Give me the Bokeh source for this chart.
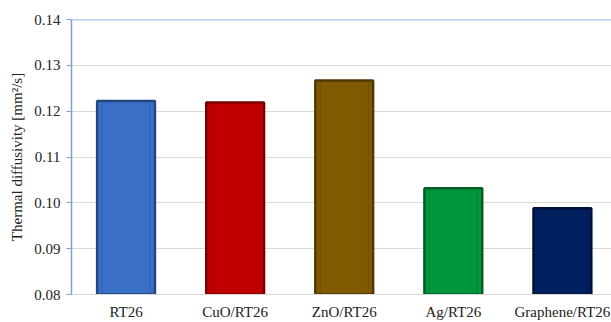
from bokeh.plotting import figure
from bokeh.models import Range1d, Span, FixedTicker, ColumnDataSource
from bokeh.embed import file_html
from bokeh.resources import INLINE

categories = ["RT26", "CuO/RT26", "ZnO/RT26", "Ag/RT26", "Graphene/RT26"]
values = [0.1222, 0.1219, 0.1267, 0.1032, 0.0988]
fill_colors = ["#3a70c8", "#c00000", "#7f5a00", "#00963c", "#002060"]
edge_colors = ["#24467f", "#7a0000", "#4f3800", "#005f26", "#00123a"]
y_ticks = [0.08, 0.09, 0.10, 0.11, 0.12, 0.13, 0.14]

FONT = "'Liberation Serif', 'Times New Roman', serif"

xs = list(range(len(categories)))
src = ColumnDataSource(dict(x=xs, top=values, fill=fill_colors, edge=edge_colors))

p = figure(width=611, height=322, output_backend="svg", toolbar_location=None,
           x_range=Range1d(-0.5, 4.45), y_range=Range1d(0.08, 0.14),
           min_border_left=71, min_border_right=0, min_border_top=19, min_border_bottom=10)
p.outline_line_color = None
p.background_fill_color = "white"

p.vbar(x="x", top="top", bottom=0.08, width=0.53, source=src,
       fill_color="fill", line_color="edge", line_width=2.5)
p.vbar(x="x", top="top", bottom=0.08, width=0.44, source=src,
       fill_color=None, line_color="edge", line_alpha=0.35, line_width=1)

p.add_layout(Span(location=0.14, dimension="width", line_color="#7f9fdc", line_width=1.5))

p.xgrid.grid_line_color = None
p.ygrid.grid_line_color = "#d9d9d9"
p.ygrid.ticker = FixedTicker(ticks=y_ticks)

p.yaxis.ticker = FixedTicker(ticks=y_ticks)
p.yaxis.major_label_overrides = {t: f"{t:.2f}" for t in y_ticks}
p.yaxis.axis_line_color = "#7f9fdc"
p.yaxis.axis_line_width = 1.5
p.yaxis.major_tick_line_color = "#7f9fdc"
p.yaxis.major_tick_out = 5
p.yaxis.major_tick_in = 0
p.yaxis.minor_tick_line_color = None
p.yaxis.major_label_text_font = FONT
p.yaxis.major_label_text_font_size = "15px"
p.yaxis.major_label_text_color = "#222222"
p.yaxis.major_label_standoff = 6
p.yaxis.axis_label = "Thermal diffusivity [mm²/s]"
p.yaxis.axis_label_text_font = FONT
p.yaxis.axis_label_text_font_size = "15px"
p.yaxis.axis_label_text_font_style = "normal"
p.yaxis.axis_label_text_color = "#222222"
p.yaxis.axis_label_standoff = 6

p.xaxis.ticker = FixedTicker(ticks=xs)
p.xaxis.major_label_overrides = {i: c for i, c in enumerate(categories)}
p.xaxis.axis_line_color = "#d9d9d9"
p.xaxis.major_tick_line_color = None
p.xaxis.major_tick_out = 0
p.xaxis.major_tick_in = 0
p.xaxis.minor_tick_line_color = None
p.xaxis.major_label_text_font = FONT
p.xaxis.major_label_text_font_size = "15px"
p.xaxis.major_label_text_color = "#222222"
p.xaxis.major_label_standoff = 9

open("out.html", "w").write(file_html(p, INLINE))
